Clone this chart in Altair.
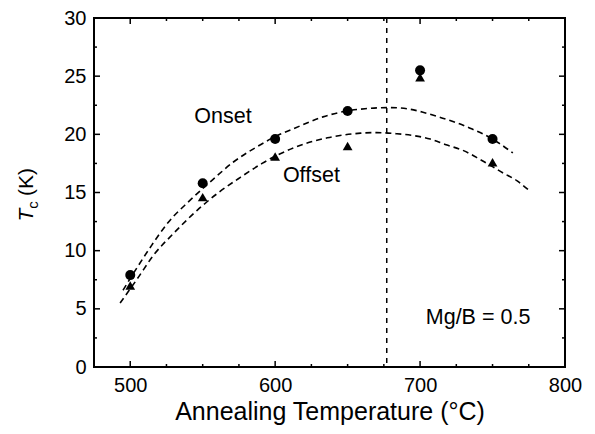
import altair as alt
import pandas as pd

# Measured points
temps = [500, 550, 600, 650, 700, 750]
onset = [7.9, 15.8, 19.6, 22.0, 25.5, 19.6]
offset = [7.0, 14.6, 18.1, 19.0, 24.9, 17.6]

# Dashed fit curves
onset_fit_x = [495, 505, 515, 526, 541, 556, 571, 587, 600, 613, 633, 649, 662, 679, 691, 702, 714, 725, 736, 750, 755, 764]
onset_fit_y = [6.6, 8.6, 10.5, 12.4, 14.3, 16.0, 17.6, 18.9, 19.8, 20.5, 21.5, 22.0, 22.2, 22.3, 22.2, 21.9, 21.45, 21.0, 20.45, 19.6, 19.2, 18.4]
offset_fit_x = [493, 505, 516, 530, 546, 561, 576, 591, 614, 636, 659, 670, 684, 695, 707, 718, 730, 742, 757, 767, 775]
offset_fit_y = [5.5, 7.6, 9.6, 11.5, 13.45, 15.0, 16.3, 17.5, 18.9, 19.7, 20.1, 20.15, 20.05, 19.9, 19.6, 19.1, 18.6, 17.8, 16.7, 16.0, 15.2]

vline_x = [677]

labels_text = ["Onset", "Offset", "Mg/B = 0.5"]
labels_x = [564, 625, 740]
labels_y = [21.5, 16.45, 4.25]

# Axis tick positions
major_x = [500, 600, 700, 800]
minor_x = [475, 525, 550, 575, 625, 650, 675, 725, 750, 775]
major_y = [0, 5, 10, 15, 20, 25, 30]
minor_y = [2.5, 7.5, 12.5, 17.5, 22.5, 27.5]

FONT = "Liberation Sans"
W, H = 471, 349

pts = pd.DataFrame({"t": temps, "on": onset, "off": offset})
fit_on = pd.DataFrame({"t": onset_fit_x, "v": onset_fit_y})
fit_off = pd.DataFrame({"t": offset_fit_x, "v": offset_fit_y})
vl = pd.DataFrame({"t": vline_x})
lab = pd.DataFrame({"txt": labels_text, "t": labels_x, "v": labels_y})
tx_major = pd.DataFrame({"t": major_x})
tx_minor = pd.DataFrame({"t": minor_x})
ty_major = pd.DataFrame({"v": major_y})
ty_minor = pd.DataFrame({"v": minor_y})

xs = alt.Scale(domain=[475, 800], nice=False, zero=False)
ys = alt.Scale(domain=[0, 30], nice=False, zero=False)

AX_X = alt.Axis(
    values=major_x, ticks=False, tickSize=0, domain=False, grid=False,
    labelFlush=False, labelFont=FONT, labelFontSize=20, labelColor="black",
    labelPadding=8, title="Annealing Temperature (°C)", titleFont=FONT,
    titleFontSize=25, titleFontWeight="normal", titleColor="black", titlePadding=4)
AX_Y = alt.Axis(
    values=major_y, ticks=False, tickSize=0, domain=False, grid=False,
    labelFlush=False, labelFont=FONT, labelFontSize=20, labelColor="black",
    labelPadding=8, title=None)


def X():
    return alt.X("t:Q", scale=xs, axis=AX_X, title="Annealing Temperature (°C)")


def Y(f="v:Q"):
    return alt.Y(f, scale=ys, axis=AX_Y, title=None)


tick_style = dict(color="black", strokeWidth=1.5)
bx_major = alt.Chart(tx_major).mark_rule(**tick_style).encode(x=X(), y=alt.value(H), y2=alt.value(H - 6))
bx_minor = alt.Chart(tx_minor).mark_rule(**tick_style).encode(x=X(), y=alt.value(H), y2=alt.value(H - 3))
tx_maj = alt.Chart(tx_major).mark_rule(**tick_style).encode(x=X(), y=alt.value(0), y2=alt.value(6))
tx_min = alt.Chart(tx_minor).mark_rule(**tick_style).encode(x=X(), y=alt.value(0), y2=alt.value(3))
ly_major = alt.Chart(ty_major).mark_rule(**tick_style).encode(y=Y(), x=alt.value(0), x2=alt.value(6))
ly_minor = alt.Chart(ty_minor).mark_rule(**tick_style).encode(y=Y(), x=alt.value(0), x2=alt.value(3))
ry_major = alt.Chart(ty_major).mark_rule(**tick_style).encode(y=Y(), x=alt.value(W), x2=alt.value(W - 6))
ry_minor = alt.Chart(ty_minor).mark_rule(**tick_style).encode(y=Y(), x=alt.value(W), x2=alt.value(W - 3))

line_on = alt.Chart(fit_on).mark_line(color="black", strokeDash=[6, 4], strokeWidth=1.6,
                                      interpolate="monotone").encode(x=X(), y=Y())
line_off = alt.Chart(fit_off).mark_line(color="black", strokeDash=[6, 4], strokeWidth=1.6,
                                        interpolate="monotone").encode(x=X(), y=Y())

vrule = alt.Chart(vl).mark_rule(color="black", strokeDash=[5, 5], strokeWidth=1.5).encode(x=X())

circles = alt.Chart(pts).mark_point(shape="circle", filled=True, color="black", size=100, opacity=1).encode(
    x=X(), y=Y("on:Q"))
tris = alt.Chart(pts).mark_point(shape="triangle-up", filled=True, color="black", size=95, opacity=1).encode(
    x=X(), y=Y("off:Q"))

texts = alt.Chart(lab).mark_text(font=FONT, fontSize=21.5, color="black", align="center",
                                 baseline="middle").encode(x=X(), y=Y(), text="txt:N")

# y-axis title: italic T, subscript c, (K)
one = pts.head(1)
yt_T = alt.Chart(one).mark_text(text="T", font=FONT, fontSize=21, fontStyle="italic",
                                angle=270, color="black", align="center", baseline="middle").encode(
    x=alt.value(-67), y=alt.value(197))
yt_c = alt.Chart(one).mark_text(text="c", font=FONT, fontSize=15,
                                angle=270, color="black", align="center", baseline="middle").encode(
    x=alt.value(-61), y=alt.value(187))
yt_K = alt.Chart(one).mark_text(text="(K)", font=FONT, fontSize=21,
                                angle=270, color="black", align="center", baseline="middle").encode(
    x=alt.value(-67), y=alt.value(164))

chart = alt.layer(
    bx_major, bx_minor, tx_maj, tx_min, ly_major, ly_minor, ry_major, ry_minor,
    line_on, line_off, vrule, circles, tris, texts, yt_T, yt_c, yt_K
).properties(
    width=W, height=H,
    autosize=alt.AutoSizeParams(type="none"),
    padding={"left": 86, "top": 10, "right": 22, "bottom": 59},
    background="white",
).configure_view(stroke="black", strokeWidth=2)

chart.save("out.html", embed_options={"renderer": "svg", "actions": False})
